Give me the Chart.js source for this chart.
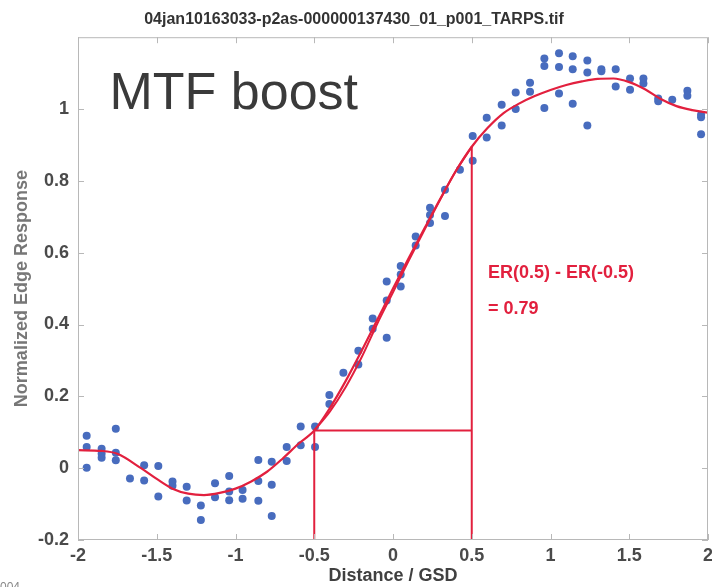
<!DOCTYPE html>
<html>
<head>
<meta charset="utf-8">
<title>MTF boost - edge response</title>
<script src="https://cdn.jsdelivr.net/npm/chart.js@4.4.0/dist/chart.umd.min.js"></script>
<style>
  html, body { margin: 0; padding: 0; background: #fff; }
  #edge-chart { display: block; }
</style>
</head>
<body>
<canvas id="edge-chart" width="712" height="587"></canvas>
<script>
// ================= DATA =================
// measured edge samples (distance in GSD, normalized response)
const ptX = [
  -1.945, -1.945, -1.945, -1.85, -1.85, -1.85, -1.76, -1.76, -1.76,
  -1.67, -1.58, -1.58, -1.49, -1.49, -1.40, -1.40, -1.31, -1.31,
  -1.22, -1.22, -1.13, -1.13, -1.04, -1.04, -1.04, -0.955, -0.955,
  -0.855, -0.855, -0.855, -0.77, -0.77, -0.77, -0.675, -0.675,
  -0.586, -0.586, -0.495, -0.495, -0.404, -0.404, -0.315, -0.22, -0.22,
  -0.129, -0.129, -0.04, -0.04, -0.04, 0.049, 0.049, 0.049,
  0.144, 0.144, 0.235, 0.235, 0.235, 0.33, 0.33, 0.425,
  0.506, 0.506, 0.595, 0.595, 0.69, 0.69, 0.779, 0.779, 0.87, 0.87,
  0.961, 0.961, 0.961, 1.054, 1.054, 1.054, 1.141, 1.141, 1.141,
  1.234, 1.234, 1.234, 1.323, 1.323, 1.414, 1.414, 1.505, 1.505,
  1.59, 1.59, 1.684, 1.684, 1.773, 1.869, 1.869, 1.956, 1.956, 1.956
];
const ptY = [
  0.09, 0.059, 0.001, 0.054, 0.04, 0.029, 0.11, 0.043, 0.022,
  -0.029, 0.008, -0.034, 0.006, -0.079, -0.037, -0.049, -0.052, -0.09,
  -0.104, -0.144, -0.042, -0.081, -0.022, -0.065, -0.089, -0.061, -0.085,
  0.023, -0.036, -0.091, 0.018, -0.046, -0.133, 0.059, 0.02,
  0.116, 0.064, 0.116, 0.059, 0.204, 0.179, 0.266, 0.327, 0.289,
  0.417, 0.388, 0.52, 0.467, 0.363, 0.563, 0.539, 0.506,
  0.645, 0.62, 0.725, 0.705, 0.683, 0.775, 0.702, 0.831,
  0.925, 0.856, 0.976, 0.921, 1.012, 0.954, 1.046, 1.0, 1.073, 1.048,
  1.141, 1.12, 1.003, 1.155, 1.117, 1.043, 1.147, 1.111, 1.015,
  1.135, 1.102, 0.954, 1.111, 1.105, 1.111, 1.063, 1.085, 1.054,
  1.085, 1.071, 1.029, 1.022, 1.026, 1.051, 1.037, 0.984, 0.977, 0.93
];

// fitted edge response curve
const fitX = [-2, -1.85, -1.75, -1.6, -1.5, -1.4, -1.3, -1.2, -1.1, -1.0, -0.9, -0.8, -0.7, -0.6,
  -0.5, -0.4, -0.3, -0.2, -0.1, 0, 0.1, 0.2, 0.3, 0.4, 0.5,
  0.6, 0.7, 0.8, 0.9, 1.0, 1.1, 1.2, 1.3, 1.4, 1.5, 1.6, 1.7, 1.8, 1.9, 2.0];
const fitY = [0.05, 0.048, 0.04, 0.0, -0.03, -0.057, -0.071, -0.075, -0.069, -0.057, -0.037, -0.01, 0.027, 0.068,
  0.105, 0.168, 0.243, 0.326, 0.413, 0.5, 0.585, 0.668, 0.75, 0.828, 0.895,
  0.947, 0.988, 1.015, 1.036, 1.053, 1.067, 1.077, 1.084, 1.085, 1.075, 1.055, 1.028, 1.008, 0.997, 0.99];

// second fit through the transition
const altX = [-0.5, -0.4, -0.3, -0.2, -0.1, 0, 0.1, 0.2, 0.3, 0.4, 0.5];
const altY = [0.105, 0.158, 0.226, 0.308, 0.402, 0.49, 0.578, 0.664, 0.748, 0.828, 0.895];

// edge response at -0.5 and +0.5 GSD
const erX = [-0.5, 0.5];
const erY = [0.105, 0.895];

const xTicks = [-2, -1.5, -1, -0.5, 0, 0.5, 1, 1.5, 2];
const yTicks = [-0.2, 0, 0.2, 0.4, 0.6, 0.8, 1];

// ================= CHART =================
const red = "rgb(226, 32, 62)";
const blue = "rgb(72, 108, 190)";
const fontFamily = "'Liberation Sans', Arial, sans-serif";
const tickFont = { family: fontFamily, size: 18, weight: "bold" };

const toPts = (xs, ys) => xs.map((x, i) => ({ x: x, y: ys[i] }));

// box with inward ticks (matlab look) + text annotations
const boxPlugin = {
  id: "box",
  afterDraw(chart) {
    const { ctx, chartArea: a, scales: { x, y } } = chart;
    ctx.save();
    ctx.strokeStyle = "#b8b8b8";
    ctx.lineWidth = 1;
    ctx.strokeRect(a.left + 0.5, a.top + 0.5, a.width - 1, a.height - 1);
    ctx.beginPath();
    xTicks.forEach(v => {
      const px = Math.round(x.getPixelForValue(v)) + 0.5;
      ctx.moveTo(px, a.bottom); ctx.lineTo(px, a.bottom - 6);
      ctx.moveTo(px, a.top); ctx.lineTo(px, a.top + 6);
    });
    yTicks.forEach(v => {
      const py = Math.round(y.getPixelForValue(v)) + 0.5;
      ctx.moveTo(a.left, py); ctx.lineTo(a.left + 6, py);
      ctx.moveTo(a.right, py); ctx.lineTo(a.right - 6, py);
    });
    ctx.stroke();

    ctx.fillStyle = "#3a3a3a";
    ctx.font = "52px " + fontFamily;
    ctx.textBaseline = "alphabetic";
    ctx.fillText("MTF boost", x.getPixelForValue(-1.8), y.getPixelForValue(1.0));

    ctx.fillStyle = red;
    ctx.font = "bold 18px " + fontFamily;
    ctx.fillText("ER(0.5) - ER(-0.5)", x.getPixelForValue(0.603), y.getPixelForValue(0.53));
    ctx.fillText("= " + (erY[1] - erY[0]).toFixed(2), x.getPixelForValue(0.603), y.getPixelForValue(0.43));

    ctx.fillStyle = "#888";
    ctx.font = "12px " + fontFamily;
    ctx.fillText("004", 0, 591);
    ctx.restore();
  }
};

new Chart(document.getElementById("edge-chart"), {
  type: "scatter",
  data: {
    datasets: [
      {
        label: "ER lines low",
        data: [{ x: erX[0], y: -0.2 }, { x: erX[0], y: erY[0] }, { x: erX[1], y: erY[0] }],
        showLine: true, borderColor: red, borderWidth: 2, pointRadius: 0, tension: 0
      },
      {
        label: "ER line high",
        data: [{ x: erX[1], y: -0.2 }, { x: erX[1], y: erY[1] }],
        showLine: true, borderColor: red, borderWidth: 2, pointRadius: 0, tension: 0
      },
      {
        label: "fit",
        data: toPts(fitX, fitY),
        showLine: true, borderColor: red, borderWidth: 2.2, pointRadius: 0,
        cubicInterpolationMode: "monotone"
      },
      {
        label: "fit 2",
        data: toPts(altX, altY),
        showLine: true, borderColor: red, borderWidth: 2, pointRadius: 0,
        cubicInterpolationMode: "monotone"
      },
      {
        label: "samples",
        data: toPts(ptX, ptY),
        backgroundColor: blue, borderWidth: 0, pointRadius: 4
      }
    ]
  },
  options: {
    responsive: false,
    animation: false,
    layout: { padding: { right: 4, left: 0, bottom: 0 } },
    plugins: {
      legend: { display: false },
      tooltip: { enabled: false },
      title: {
        display: true,
        text: "04jan10163033-p2as-000000137430_01_p001_TARPS.tif",
        color: "#333",
        font: { family: fontFamily, size: 16, weight: "bold" },
        padding: { top: 10, bottom: 8 }
      }
    },
    scales: {
      x: {
        type: "linear", min: -2, max: 2,
        grid: { display: false }, border: { display: false },
        afterBuildTicks: s => { s.ticks = xTicks.map(v => ({ value: v })); },
        afterFit: s => { s.height = 47; },
        ticks: {
          color: "#4a4a4a", font: tickFont, padding: -3, maxRotation: 0, autoSkip: false,
          callback: v => String(v)
        },
        title: {
          display: true, text: "Distance / GSD", color: "#404040",
          font: tickFont, padding: { top: 0, bottom: 0 }
        }
      },
      y: {
        type: "linear", min: -0.2, max: 1.2,
        grid: { display: false }, border: { display: false },
        afterBuildTicks: s => { s.ticks = yTicks.map(v => ({ value: v })); },
        afterFit: s => { s.width = 78; },
        ticks: {
          color: "#4a4a4a", font: tickFont, padding: 1,
          callback: v => String(Math.round(v * 10) / 10)
        },
        title: {
          display: true, text: "Normalized Edge Response", color: "#777",
          font: tickFont, padding: { top: 11, bottom: 0 }
        }
      }
    }
  },
  plugins: [boxPlugin]
});
</script>
</body>
</html>
